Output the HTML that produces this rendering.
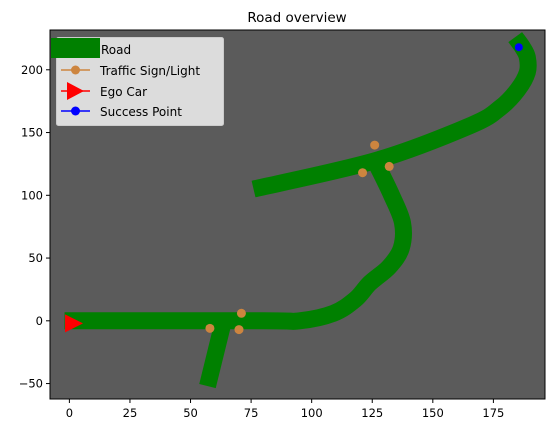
<!DOCTYPE html>
<html><head><meta charset="utf-8"><style>
body{margin:0;background:#fff;font-family:"Liberation Sans","DejaVu Sans",sans-serif}
</style></head><body>
<svg id="c" width="555" height="433" xmlns="http://www.w3.org/2000/svg" font-family="'DejaVu Sans','Liberation Sans',sans-serif"></svg>
<script>
const roadMain=[[-2,0],[80,0],[95,0],[109,6],[118,17],[124,30],[132,43],[137,58],[137.5,78],[133,100],[127,124]];
const roadUpper=[[76,105],[127,128],[166,156],[178,170],[185,184],[189,198],[189,210],[187,218],[184,226]];
const roadBranch=[[57,-52],[64,3]];
const signX=[58,71,70,121,126,132];
const signY=[-6,6,-7,118,140,123];
const egoX=[1.5],egoY=[-2];
const succX=[185.5],succY=[218];
const xTicks=[0,25,50,75,100,125,150,175];
const yTicks=[-50,0,50,100,150,200];
const L=50,R=545,T=30,B=399,xmin=-8,xmax=196.3,ymin=-62.3,ymax=231.7;
const sx=v=>L+(v-xmin)/(xmax-xmin)*(R-L);
const sy=v=>B-(v-ymin)/(ymax-ymin)*(B-T);
const svg=document.getElementById('c');const NS='http://www.w3.org/2000/svg';
function mk(t,a,p){const e=document.createElementNS(NS,t);for(const k in a)e.setAttribute(k,a[k]);(p||svg).appendChild(e);return e;}
function smooth(pts){const P=pts.map(q=>[sx(q[0]),sy(q[1])]);let d='M'+P[0][0]+','+P[0][1];
 for(let i=0;i<P.length-1;i++){const p0=P[Math.max(0,i-1)],p1=P[i],p2=P[i+1],p3=P[Math.min(P.length-1,i+2)];
  const c1=[p1[0]+(p2[0]-p0[0])/6,p1[1]+(p2[1]-p0[1])/6],c2=[p2[0]-(p3[0]-p1[0])/6,p2[1]-(p3[1]-p1[1])/6];
  d+=` C${c1[0]},${c1[1]} ${c2[0]},${c2[1]} ${p2[0]},${p2[1]}`;}
 return d;}
const bg=mk('rect',{x:L,y:T,width:R-L,height:B-T,fill:'#5b5b5b'});


const clip=mk('clipPath',{id:'cl'});mk('rect',{x:L,y:T,width:R-L,height:B-T},clip);
const g=mk('g',{'clip-path':'url(#cl)'});
[[roadMain,'road-main'],[roadUpper,'road-upper'],[roadBranch,'road-branch']].forEach(([pts,n])=>{
 const p=mk('path',{d:smooth(pts),fill:'none',stroke:'#008000','stroke-width':17,'stroke-linejoin':'round'},g);
 
 
});
signX.forEach((x,i)=>{const c=mk('circle',{cx:sx(x),cy:sy(signY[i]),r:4.5,fill:'#cd853f'},g);
 
 });
egoX.forEach((x,i)=>{const X=sx(x),Y=sy(egoY[i]);const p=mk('polygon',{points:`${X-8},${Y-9} ${X+10},${Y} ${X-8},${Y+9}`,fill:'#ff0000'},g);
 
 });
succX.forEach((x,i)=>{const c=mk('circle',{cx:sx(x),cy:sy(succY[i]),r:4,fill:'#0000ff'},g);
 
 });
mk('rect',{x:L,y:T,width:R-L,height:B-T,fill:'none',stroke:'#000','stroke-width':1});
xTicks.forEach(v=>{const X=sx(v);mk('line',{x1:X,x2:X,y1:B,y2:B+4,stroke:'#000'});
 const t=mk('text',{x:X,y:B+18,'text-anchor':'middle','font-size':11.5});t.textContent=v;
 
 });
yTicks.forEach(v=>{const Y=sy(v);mk('line',{x1:L-4,x2:L,y1:Y,y2:Y,stroke:'#000'});
 const t=mk('text',{x:L-7,y:Y+4,'text-anchor':'end','font-size':11.5});t.textContent=v<0?'\u2212'+(-v):v;
 
 });
</script>
<svg width="555" height="433" style="position:absolute;left:0;top:0" font-family="'DejaVu Sans','Liberation Sans',sans-serif">
<text x="297" y="22" text-anchor="middle" font-size="13.5">Road overview</text>
<g>
<rect x="56.5" y="37.5" width="167" height="88" rx="2" fill="#dcdcdc" stroke="#cccccc"/>
<rect x="51" y="38" width="49" height="20" fill="#008000"/>
<text x="101" y="54" font-size="12">Road</text>
<line x1="61" x2="90" y1="70" y2="70" stroke="#cd853f" stroke-width="1.5"/>
<circle cx="75.5" cy="70" r="4.5" fill="#cd853f"/>
<text x="100" y="75" font-size="12">Traffic Sign/Light</text>
<line x1="61" x2="90" y1="91" y2="91" stroke="#ff0000" stroke-width="1.5"/>
<polygon points="67,82 84,91 67,100" fill="#ff0000"/>
<text x="100" y="96" font-size="12">Ego Car</text>
<line x1="61" x2="90" y1="111" y2="111" stroke="#0000ff" stroke-width="1.5"/>
<circle cx="75.5" cy="111" r="4.5" fill="#0000ff"/>
<text x="100" y="116" font-size="12">Success Point</text>
</g>
</svg>
</body></html>
